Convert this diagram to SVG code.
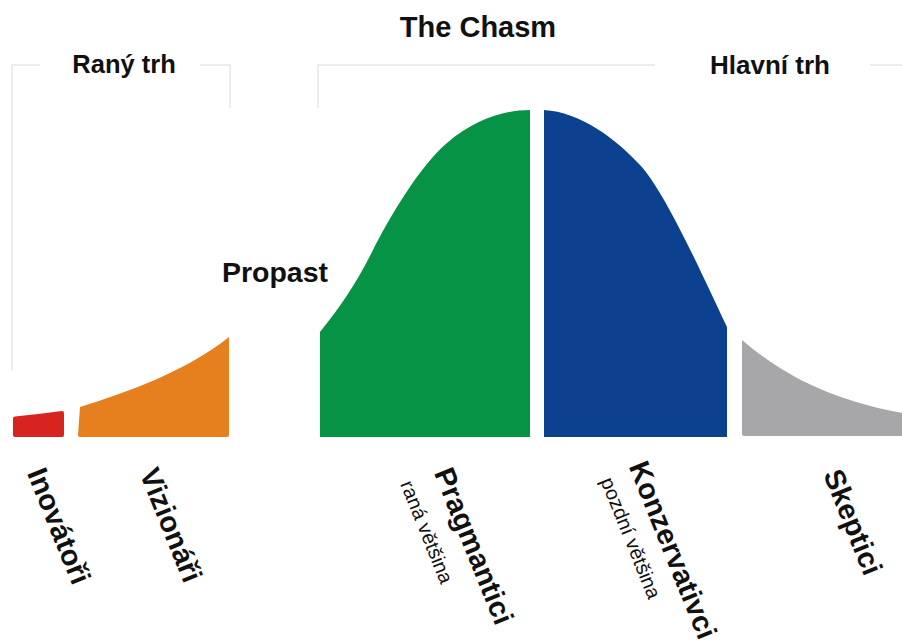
<svg xmlns="http://www.w3.org/2000/svg" width="902" height="643" viewBox="0 0 902 643">
<style>
.t{font-family:"Liberation Sans",Arial,Helvetica,sans-serif;fill:#111}
.b{font-weight:bold}
.lab{font-size:29px;font-weight:bold;text-anchor:middle}
.sub{font-size:20px;text-anchor:middle}
.br{fill:none;stroke:#e6e6e6;stroke-width:1.5}
</style>
<rect width="902" height="643" fill="#ffffff"/>
<g id="connectors">
<path class="br" d="M12,370 L12,65 L40,65 M200,65 L230,65 L230,108"/>
<path class="br" d="M318,108 L318,65 L655,65 M870,65 L902,65"/>
</g>
<g id="title"><text class="t b" x="478" y="37" font-size="29" text-anchor="middle">The Chasm</text></g>
<g id="early-market"><text class="t b" x="124" y="73" font-size="25.5" text-anchor="middle">Raný trh</text></g>
<g id="main-market"><text class="t b" x="770" y="74" font-size="26" text-anchor="middle">Hlavní trh</text></g>
<g id="chasm"><text class="t b" x="275" y="282" font-size="28.5" text-anchor="middle">Propast</text></g>
<g id="innovators">
<path d="M15,416.5 Q40,414 62,411 Q64,411 64,413 L64,435 Q64,437 62,437 L15,437 Q13,437 13,435 L13,418.5 Q13,416.5 15,416.5 Z" fill="#d8241f"/>
<text class="t lab" transform="translate(59,526) rotate(68)" x="0" y="10">Inovátoři</text>
</g>
<g id="visionaries">
<path d="M80,407 C125,393 185,372 229,337 L229,435 Q229,437 227,437 L80,437 Q78,437 78,435 Z" fill="#e6801f"/>
<text class="t lab" transform="translate(171,525) rotate(68)" x="0" y="10">Vizionáři</text>
</g>
<g id="pragmatists">
<path d="M320,437 L320,332 C337,311 355,286 372,252 C390,216 420,166 447,143 C475,119 505,110 530,110 L530,437 Z" fill="#079346"/>
<text class="t lab" transform="translate(474,546) rotate(68)" x="0" y="10">Pragmantici</text>
<text class="t sub" transform="translate(427,532) rotate(68)" x="0" y="7">raná většina</text>
</g>
<g id="conservatives">
<path d="M544,437 L544,110 C580,112 615,138 640,165 C665,192 700,270 727,327 L727,437 Z" fill="#0b418f"/>
<text class="t lab" transform="translate(673,550) rotate(68)" x="0" y="10">Konzervativci</text>
<text class="t sub" transform="translate(631,538) rotate(68)" x="0" y="7">pozdní většina</text>
</g>
<g id="skeptics">
<path d="M742,340 C775,368 820,398 902,413 L902,436 L744,436 Q742,436 742,434 Z" fill="#a7a7a9"/>
<text class="t lab" transform="translate(853,522) rotate(68)" x="0" y="10">Skeptici</text>
</g>
</svg>
